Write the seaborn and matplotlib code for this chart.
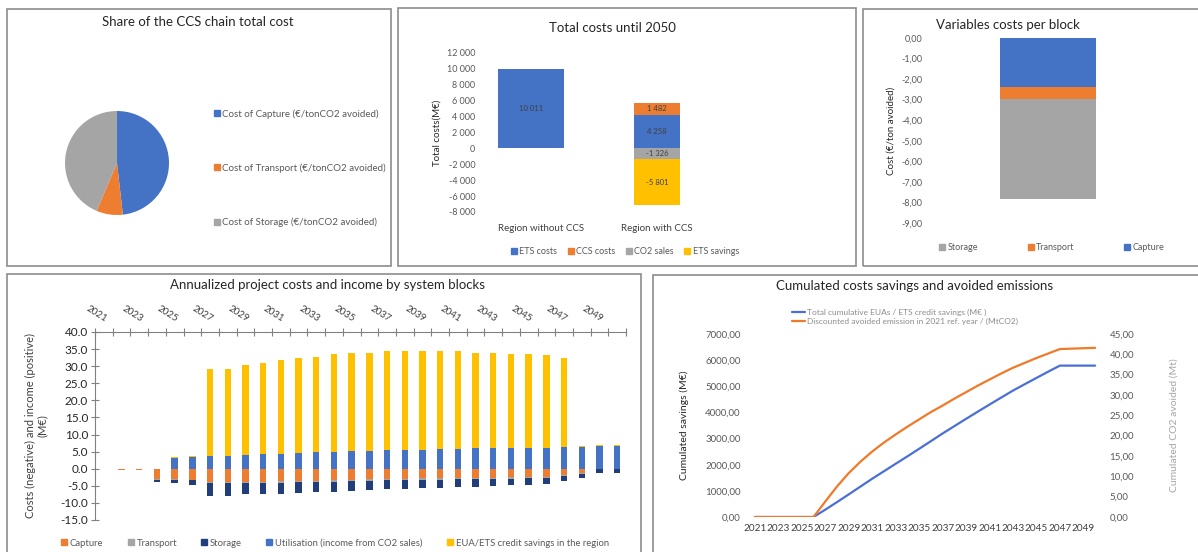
import numpy as np
import matplotlib
matplotlib.use("Agg")
import matplotlib.pyplot as plt
from matplotlib.patches import Rectangle
from matplotlib.lines import Line2D
from matplotlib.ticker import FuncFormatter
import seaborn as sns

# ---------------- data ----------------
pie_labels = ["Cost of Capture (€/tonCO2 avoided)",
              "Cost of Transport (€/tonCO2 avoided)",
              "Cost of Storage (€/tonCO2 avoided)"]
pie_shares = [48.2, 8.2, 43.6]

regions = ["Region without CCS", "Region with CCS"]
ets_costs = [10011, 4258]
ccs_costs = [0, 1482]
co2_sales = [0, -1326]
ets_savings = [0, -5801]
total_legend = ["ETS costs", "CCS costs", "CO2 sales", "ETS savings"]

block_names = ["Storage", "Transport", "Capture"]
block_costs = [-4.88, -0.57, -2.40]

years = list(range(2021, 2051))
capture = [0, -0.5, -0.5, -3.0, -3.0, -3.2, -3.9, -3.9, -3.8, -3.8, -3.7, -3.6, -3.5, -3.4, -3.2,
           -3.1, -3.0, -2.9, -2.8, -2.8, -2.7, -2.6, -2.6, -2.5, -2.4, -2.3, -1.8, -1.3, 0, 0]
transport = [0, 0, 0, -0.2, -0.2, -0.2, -0.4, -0.4, -0.4, -0.4, -0.4, -0.4, -0.4, -0.4, -0.4,
             -0.4, -0.4, -0.4, -0.4, -0.4, -0.4, -0.4, -0.4, -0.4, -0.4, -0.4, -0.2, -0.1, 0, 0]
storage = [0, 0, 0, -0.7, -1.0, -1.3, -3.7, -3.6, -3.3, -3.3, -3.3, -3.1, -3.0, -3.1, -2.9,
           -2.7, -2.6, -2.6, -2.5, -2.5, -2.3, -2.2, -2.1, -2.0, -2.0, -1.8, -1.7, -1.3, -1.3, -1.3]
utilisation = [0, 0, 0, 0, 3.1, 3.4, 3.6, 3.8, 3.9, 4.2, 4.3, 4.5, 4.8, 5.0, 5.2,
               5.3, 5.5, 5.6, 5.6, 5.9, 5.9, 6.1, 6.1, 6.2, 6.2, 6.2, 6.4, 6.4, 6.6, 6.6]
ets_credit = [0, 0, 0, 0, 0.3, 0.3, 25.5, 25.5, 26.5, 26.6, 27.6, 27.9, 28.0, 28.6, 28.8,
              28.7, 28.8, 28.9, 28.9, 28.5, 28.6, 27.9, 27.9, 27.5, 27.5, 27.0, 26.1, 0.2, 0.2, 0.2]
annual_legend = ["Capture", "Transport", "Storage",
                 "Utilisation (income from CO2 sales)",
                 "EUA/ETS credit savings in the region"]

cum_savings = [0, 0, 0, 0, 0, 0, 280, 570, 865, 1165, 1464, 1750, 2036, 2320, 2609,
               2900, 3195, 3475, 3755, 4030, 4302, 4570, 4836, 5080, 5320, 5560, 5791, 5791, 5791, 5791]
cum_avoided = [0, 0, 0, 0, 0, 0, 3.8, 7.5, 10.8, 13.6, 16.1, 18.3, 20.3, 22.2, 24.0,
               25.8, 27.4, 29.1, 30.7, 32.3, 33.8, 35.3, 36.7, 37.9, 39.1, 40.2, 41.3, 41.4, 41.5, 41.6]
cum_legend = ["Total cumulative EUAs / ETS credit savings (M€ )",
              "Discounted avoided emission in 2021 ref. year / (MtCO2)"]

# ---------------- style ----------------
sns.set_theme(style="white")
plt.rcParams['font.family'] = ['Lato', 'DejaVu Sans']

BLUE = "#4472C4"
ORANGE = "#ED7D31"
GRAY = "#A5A5A5"
YELLOW = "#FFC000"
NAVY = "#213E7A"
TXT = "#404040"
TICK = "#595959"

W, H = 1198, 552
fig = plt.figure(figsize=(W / 100, H / 100), dpi=100)


def px_axes(l, t, r, b):
    return fig.add_axes([l / W, 1 - b / H, (r - l) / W, (b - t) / H])


def fx(x):
    return x / W


def fy(y):
    return 1 - y / H


def frame(l, t, r, b):
    fig.add_artist(Rectangle((fx(l), fy(b)), (r - l) / W, (b - t) / H,
                             transform=fig.transFigure, fill=False,
                             edgecolor="#8C8C8C", linewidth=1.2))


def sq(color):
    return Line2D([], [], marker="s", linestyle="none", markersize=4,
                  markerfacecolor=color, markeredgecolor=color)


def thousands(v, _=None):
    s = f"{abs(v):,.0f}".replace(",", " ")
    return ("-" if v < 0 else "") + s


def comma2(v, _=None):
    return f"{v:.2f}".replace(".", ",")


# panel frames
frame(7, 9, 391, 266)
frame(398, 8, 856, 266)
frame(863, 9, 1200, 266)
frame(7, 274, 641, 556)
frame(653, 275, 1202, 556)

# ---------------- 1. pie ----------------
ax1 = px_axes(52, 98, 182, 228)
ax1.pie(pie_shares, colors=[BLUE, ORANGE, GRAY], startangle=90,
        counterclock=False, wedgeprops=dict(linewidth=0))
ax1.set_aspect("equal")
fig.text(fx(198), fy(22), "Share of the CCS chain total cost", ha="center",
         va="center", fontsize=9.5, color="#262626")
fig.legend([sq(BLUE), sq(ORANGE), sq(GRAY)], pie_labels,
           loc="center left", bbox_to_anchor=(fx(205), fy(168)),
           frameon=False, fontsize=7, labelcolor=TICK, labelspacing=4.6,
           handlelength=0.6, handletextpad=0.3)

# ---------------- 2. total costs ----------------
ax2 = px_axes(478, 53, 850, 212)
xpos = np.arange(len(regions))
widths = [0.52, 0.37]
ax2.bar(xpos, ets_costs, width=widths, color=BLUE, linewidth=0)
ax2.bar(xpos, ccs_costs, bottom=ets_costs, width=widths, color=ORANGE, linewidth=0)
ax2.bar(xpos, co2_sales, width=widths, color=GRAY, linewidth=0)
ax2.bar(xpos, ets_savings, bottom=co2_sales, width=widths, color=YELLOW, linewidth=0)
ax2.text(0, ets_costs[0] / 2, thousands(ets_costs[0]), ha="center", va="center",
         fontsize=5.5, color=TXT)
ax2.text(1, ets_costs[1] / 2, thousands(ets_costs[1]), ha="center", va="center",
         fontsize=5.5, color=TXT)
ax2.text(1, ets_costs[1] + ccs_costs[1] / 2, thousands(ccs_costs[1]), ha="center",
         va="center", fontsize=5.5, color=TXT)
ax2.text(1, co2_sales[1] / 2, thousands(co2_sales[1]), ha="center", va="center",
         fontsize=5.5, color=TXT)
ax2.text(1, co2_sales[1] + ets_savings[1] / 2, thousands(ets_savings[1]), ha="center",
         va="center", fontsize=5.5, color=TXT)
ax2.set_xlim(-0.42, 2.53)
ax2.set_ylim(-8000, 12000)
ax2.set_yticks(range(-8000, 12001, 2000))
ax2.yaxis.set_major_formatter(FuncFormatter(thousands))
ax2.set_xticks([])
ax2.tick_params(axis="y", labelsize=6.5, labelcolor=TICK, length=0, pad=2)
sns.despine(ax=ax2, left=True, bottom=True)
ax2.set_ylabel("Total costs(M€)", fontsize=7, color="#262626", labelpad=4)
for i, name in enumerate(regions):
    fig.text(fx(541 + (i * 116)), fy(228), name, ha="center", va="center",
             fontsize=7, color=TXT)
fig.text(fx(612), fy(28), "Total costs until 2050", ha="center", va="center",
         fontsize=9.5, color="#262626")
fig.legend([sq(BLUE), sq(ORANGE), sq(GRAY), sq(YELLOW)], total_legend,
           loc="center", bbox_to_anchor=(fx(625), fy(252)), ncol=4,
           frameon=False, fontsize=6.5, labelcolor=TICK, handlelength=0.6,
           handletextpad=0.3, columnspacing=1.2)

# ---------------- 3. variable costs per block ----------------
ax3 = px_axes(925, 38, 1190, 223)
block_colors = {"Storage": GRAY, "Transport": ORANGE, "Capture": BLUE}
top = 0.0
for name in ["Capture", "Transport", "Storage"]:
    v = block_costs[block_names.index(name)]
    ax3.bar([0], [v], bottom=top, width=1.0, color=block_colors[name], linewidth=0)
    top += v
ax3.set_xlim(-1.28, 1.48)
ax3.set_ylim(-9, 0)
ax3.set_yticks(np.arange(-9, 0.01, 1))
ax3.yaxis.set_major_formatter(FuncFormatter(comma2))
ax3.set_xticks([])
ax3.tick_params(axis="y", labelsize=6.5, labelcolor=TICK, length=0, pad=2)
sns.despine(ax=ax3, left=True, bottom=True)
ax3.set_ylabel("Cost (€/ton avoided)", fontsize=7, color="#262626", labelpad=4)
fig.text(fx(1008), fy(25), "Variables costs per block", ha="center", va="center",
         fontsize=9.5, color="#262626")
fig.legend([sq(block_colors[n]) for n in block_names], block_names,
           loc="center", bbox_to_anchor=(fx(1052), fy(248)), ncol=3,
           frameon=False, fontsize=6.5, labelcolor=TICK, handlelength=0.6,
           handletextpad=0.3, columnspacing=5.5)

# ---------------- 4. annualized costs ----------------
ax4 = px_axes(95, 332, 626, 520)
xi = np.arange(len(years))
bw = 0.36
cap = np.array(capture)
trn = np.array(transport)
sto = np.array(storage)
ax4.bar(xi, cap, width=bw, color=ORANGE, linewidth=0)
ax4.bar(xi, trn, bottom=cap, width=bw, color=GRAY, linewidth=0)
ax4.bar(xi, sto, bottom=cap + trn, width=bw, color=NAVY, linewidth=0)
ax4.bar(xi, utilisation, width=bw, color=BLUE, linewidth=0)
ax4.bar(xi, ets_credit, bottom=utilisation, width=bw, color=YELLOW, linewidth=0)
ax4.set_xlim(-0.5, len(years) - 0.5)
ax4.set_ylim(-15, 40)
ax4.set_yticks(np.arange(-15, 40.1, 5))
ax4.yaxis.set_major_formatter(FuncFormatter(lambda v, _: f"{v:.1f}"))
ax4.xaxis.tick_top()
ax4.set_xticks(xi[::2])
ax4.set_xticklabels([str(y) for y in years[::2]])
ax4.set_xticks(np.arange(-0.5, len(years), 1), minor=True)
ax4.tick_params(axis="x", which="major", length=0, pad=6, labelsize=7, labelcolor=TXT)
ax4.tick_params(axis="x", which="minor", direction="inout", length=6, color="#808080", width=0.8)
ax4.tick_params(axis="y", direction="inout", length=6, color="#808080", width=0.8,
                labelsize=8.5, labelcolor="#262626", pad=2, left=True)
for lab in ax4.get_xticklabels():
    lab.set_rotation(-32)
    lab.set_rotation_mode("anchor")
    lab.set_ha("right")
    lab.set_va("bottom")
for s in ["bottom", "right"]:
    ax4.spines[s].set_visible(False)
for s in ["top", "left"]:
    ax4.spines[s].set_color("#808080")
    ax4.spines[s].set_linewidth(0.8)
ax4.set_ylabel("Costs (negative) and income (positive)\n(M€)", fontsize=8,
               color=TXT, labelpad=9, linespacing=1.1)
fig.text(fx(327), fy(285), "Annualized project costs and income by system blocks",
         ha="center", va="center", fontsize=9.5, color="#262626")
fig.legend([sq(ORANGE), sq(GRAY), sq(NAVY), sq(BLUE), sq(YELLOW)], annual_legend,
           loc="center", bbox_to_anchor=(fx(335), fy(543)), ncol=5,
           frameon=False, fontsize=6.8, labelcolor=TICK, handlelength=0.6,
           handletextpad=0.3, columnspacing=2.6)

# ---------------- 5. cumulated savings ----------------
ax5 = px_axes(749, 334, 1101, 517)
sns.lineplot(x=years, y=cum_savings, ax=ax5, color="#4A6FD6", linewidth=1.6)
ax5b = ax5.twinx()
sns.lineplot(x=years, y=cum_avoided, ax=ax5b, color="#F07A2A", linewidth=1.6)
ax5.set_xlim(2020.5, 2050.5)
ax5.set_ylim(0, 7000)
ax5b.set_ylim(0, 45)
ax5.set_yticks(range(0, 7001, 1000))
ax5b.set_yticks(range(0, 46, 5))
ax5.yaxis.set_major_formatter(FuncFormatter(comma2))
ax5b.yaxis.set_major_formatter(FuncFormatter(comma2))
ax5.set_xticks(years[::2])
ax5.set_xticklabels([str(y) for y in years[::2]])
ax5.tick_params(axis="x", labelsize=7.2, labelcolor=TXT, length=0, pad=5)
ax5.tick_params(axis="y", labelsize=7, labelcolor=TICK, length=0, pad=6)
ax5b.tick_params(axis="y", labelsize=7, labelcolor=TICK, length=0, pad=6)
for a in (ax5, ax5b):
    for s in a.spines.values():
        s.set_visible(False)
ax5.set_ylabel("Cumulated savings (M€)", fontsize=7.5, color="#262626", labelpad=12)
ax5b.set_ylabel("Cumulated CO2 avoided (Mt)", fontsize=7.5, color="#A6A6A6", labelpad=26)
ax5.set_xlabel("")
fig.text(fx(915), fy(286), "Cumulated costs savings and avoided emissions",
         ha="center", va="center", fontsize=9.5, color="#262626")
fig.legend([Line2D([], [], color="#4A6FD6", lw=1.6), Line2D([], [], color="#F07A2A", lw=1.6)],
           cum_legend, loc="center", bbox_to_anchor=(fx(905), fy(317)), ncol=1,
           frameon=False, fontsize=6, labelcolor="#8C8C8C", handlelength=1.6,
           handletextpad=0.2, labelspacing=0.2)

fig.savefig("out.png", dpi=100)
